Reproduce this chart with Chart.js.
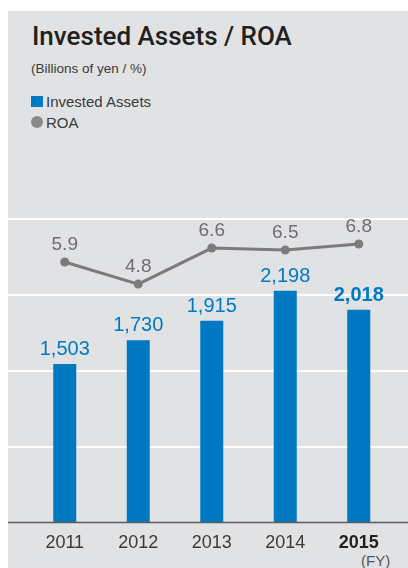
<!DOCTYPE html>
<html>
<head>
<meta charset="utf-8">
<script src="https://cdn.jsdelivr.net/npm/chart.js@4.4.1/dist/chart.umd.min.js"></script>
<style>
  html, body { margin: 0; padding: 0; background: #fff; }
  body { width: 408px; height: 568px; position: relative; overflow: hidden; font-family: "Liberation Sans", Arial, sans-serif; }
  .panel { position: absolute; left: 8px; top: 11px; width: 400px; height: 557px; background: #e1e2e4; }
  .txt { position: absolute; line-height: 1; white-space: nowrap; }
  #title { left: 32px; top: 23px; font-size: 26px; color: #231f20; font-family: Roboto, "Liberation Sans", sans-serif; font-weight: 500; }
  #sub { left: 31px; top: 62px; font-size: 13.5px; color: #3a3a3a; }
  #lg1 { left: 46px; top: 94px; font-size: 15px; color: #3a3a3a; }
  #lg2 { left: 46px; top: 115px; font-size: 15px; color: #3a3a3a; }
  .sq { position: absolute; left: 31px; top: 96px; width: 12px; height: 11px; background: #0079c2; }
  .dot { position: absolute; left: 31px; top: 116px; width: 12px; height: 12px; border-radius: 50%; background: #8a8a8c; }
  #fy { left: 361px; top: 553px; font-size: 15px; color: #555; }
  #wrap { position: absolute; left: 0; top: 0; width: 408px; height: 568px; }
</style>
</head>
<body>
<div class="panel"></div>
<div class="txt" id="title">Invested Assets / ROA</div>
<div class="txt" id="sub">(Billions of yen / %)</div>
<div class="sq"></div><div class="txt" id="lg1">Invested Assets</div>
<div class="dot"></div><div class="txt" id="lg2">ROA</div>
<div class="txt" id="fy">(FY)</div>
<div id="wrap"><canvas id="chart" width="408" height="568"></canvas></div>
<script>
const years = ['2011', '2012', '2013', '2014', '2015'];
const investedAssets = [1503, 1730, 1915, 2198, 2018];
const roa = [5.9, 4.8, 6.6, 6.5, 6.8];

const BLUE = '#0079c2';
const GRAY = '#7b7b7d';

// white gridlines and the dark baseline, drawn across the whole panel
const gridPlugin = {
    id: 'panelGrid',
    beforeDatasetsDraw(chart) {
        const ctx = chart.ctx;
        const y = chart.scales.y;
        ctx.save();
        ctx.strokeStyle = '#ffffff';
        ctx.lineWidth = 2;
        for (let v = 720; v <= 2880; v += 720) {
            const py = Math.round(y.getPixelForValue(v));
            ctx.beginPath();
            ctx.moveTo(8, py);
            ctx.lineTo(408, py);
            ctx.stroke();
        }
        ctx.restore();
    },
    afterDatasetsDraw(chart) {
        const ctx = chart.ctx;
        const py = Math.round(chart.scales.y.getPixelForValue(0)) + 0.5;
        ctx.save();
        ctx.strokeStyle = '#5d5d5f';
        ctx.lineWidth = 1.5;
        ctx.beginPath();
        ctx.moveTo(8, py);
        ctx.lineTo(408, py);
        ctx.stroke();
        ctx.restore();
    }
};

// value labels above bars and points
const labelPlugin = {
    id: 'valueLabels',
    afterDraw(chart) {
        const ctx = chart.ctx;
        ctx.save();
        ctx.textAlign = 'center';
        ctx.textBaseline = 'middle';
        chart.getDatasetMeta(0).data.forEach((el, i) => {
            ctx.fillStyle = BLUE;
            ctx.font = (i === 4 ? 'bold ' : '') + '20px "Liberation Sans", Arial, sans-serif';
            ctx.fillText(investedAssets[i].toLocaleString('en-US'), el.x, el.y - 14.5);
        });
        chart.getDatasetMeta(1).data.forEach((el, i) => {
            ctx.fillStyle = '#6d6e70';
            ctx.font = '19px "Liberation Sans", Arial, sans-serif';
            ctx.fillText(roa[i].toFixed(1), el.x, el.y - 17);
        });
        ctx.restore();
    }
};

new Chart(document.getElementById('chart'), {
    data: {
        labels: years,
        datasets: [
            {
                type: 'bar',
                label: 'Invested Assets',
                data: investedAssets,
                backgroundColor: BLUE,
                categoryPercentage: 1,
                barPercentage: 0.313,
                yAxisID: 'y',
                order: 2
            },
            {
                type: 'line',
                label: 'ROA',
                data: roa,
                borderColor: GRAY,
                backgroundColor: GRAY,
                borderWidth: 3,
                pointRadius: 4.5,
                pointBackgroundColor: GRAY,
                pointBorderWidth: 0,
                yAxisID: 'y2',
                order: 1
            }
        ]
    },
    options: {
        responsive: false,
        animation: false,
        layout: { padding: { left: 28, right: 12.5, top: 219, bottom: 4 } },
        plugins: { legend: { display: false }, tooltip: { enabled: false } },
        scales: {
            x: {
                grid: { display: false, drawTicks: false },
                border: { display: false },
                ticks: {
                    padding: 10,
                    color: ctx => ctx.index === 4 ? '#231f20' : '#3a3a3a',
                    font: ctx => ({
                        family: '"Liberation Sans", Arial, sans-serif',
                        size: 18,
                        weight: ctx.index === 4 ? 'bold' : 'normal'
                    })
                }
            },
            y: { display: false, min: 0, max: 2880 },
            y2: { display: false, min: -7.1, max: 8.05 }
        }
    },
    plugins: [gridPlugin, labelPlugin]
});
</script>
</body>
</html>
